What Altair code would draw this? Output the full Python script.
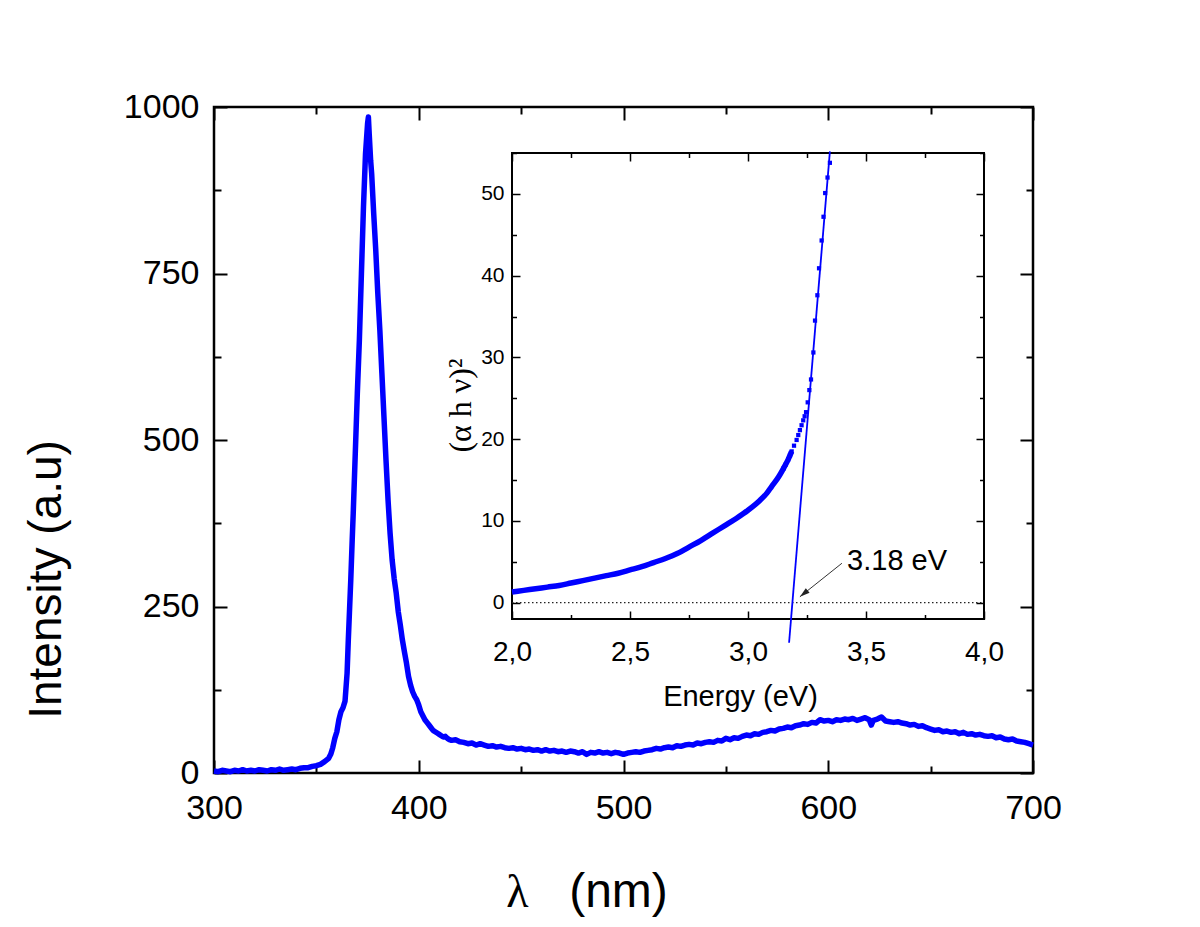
import altair as alt
import pandas as pd

# ---------------- data ----------------
WAVELENGTH = [300, 302, 304, 306, 308, 310, 312, 314, 316, 318, 320, 322, 324, 326, 328, 330, 332, 334, 336, 338,
              340, 342, 344, 346, 348, 350, 352, 354, 356, 357, 358, 359, 360, 361, 362, 363, 364, 365, 365.6, 366.2,
              366.8, 367.5, 368, 369, 370, 371, 372, 373, 374, 375, 375.4, 375.8, 376.5, 377, 378, 379, 380, 381, 382, 383,
              384, 385, 386, 387, 388, 389, 390, 391, 392, 393, 394, 395, 396, 397, 398, 399, 400, 401, 402, 403,
              404, 405, 406, 407, 408, 409, 410, 411, 412, 413, 414, 415, 416, 418, 420, 422, 424, 426, 428, 430,
              432, 434, 436, 438, 440, 442, 444, 446, 448, 450, 452, 454, 456, 458, 460, 462, 464, 466, 468, 470,
              472, 474, 476, 478, 480, 482, 484, 486, 488, 490, 492, 494, 496, 498, 500, 502, 504, 506, 508, 510,
              512, 514, 516, 518, 520, 522, 524, 526, 528, 530, 532, 534, 536, 538, 540, 542, 544, 546, 548, 550,
              552, 554, 556, 558, 560, 562, 564, 566, 568, 570, 572, 574, 576, 578, 580, 582, 584, 586, 588, 590,
              592, 594, 596, 598, 600, 602, 604, 606, 608, 610, 612, 614, 616, 618, 620, 621, 622, 624, 626, 628,
              630, 632, 634, 636, 638, 640, 642, 644, 646, 648, 650, 652, 654, 656, 658, 660, 662, 664, 666, 668,
              670, 672, 674, 676, 678, 680, 682, 684, 686, 688, 690, 692, 694, 696, 698, 700]
INTENSITY = [3, 2, 4, 3, 2, 4, 3, 5, 3, 4, 3, 5, 4, 3, 5, 4, 6, 4, 5, 6,
             5, 7, 8, 8, 10, 11, 13, 17, 22, 28, 38, 52, 62, 80, 92, 98, 108, 150, 200, 245,
             290, 350, 390, 480, 570, 650, 750, 850, 930, 975, 985, 960, 920, 900, 840, 785, 720, 665, 600, 535,
             470, 410, 360, 320, 292, 270, 242, 222, 200, 182, 165, 145, 132, 122, 115, 110, 102, 92, 86, 80,
             76, 72, 68, 64, 62, 60, 58, 56, 54, 55, 52, 50, 49, 50, 47, 46, 44, 45, 42, 44,
             42, 40, 41, 39, 40, 38, 37, 38, 36, 37, 35, 36, 34, 35, 33, 35, 33, 34, 32, 33,
             31, 33, 32, 30, 32, 28, 31, 30, 32, 30, 31, 29, 31, 30, 28, 30, 31, 32, 31, 33,
             34, 35, 37, 36, 38, 39, 38, 41, 40, 42, 43, 42, 45, 44, 46, 47, 46, 49, 48, 52,
             50, 53, 52, 55, 57, 56, 59, 58, 61, 62, 64, 63, 66, 67, 69, 68, 71, 72, 74, 73,
             76, 75, 80, 78, 79, 77, 80, 79, 81, 80, 82, 79, 81, 83, 80, 72, 79, 81, 84, 78,
             77, 76, 77, 75, 74, 72, 73, 70, 71, 68, 66, 64, 65, 62, 63, 61, 62, 59, 61, 58,
             59, 57, 58, 56, 55, 56, 53, 54, 51, 50, 51, 48, 47, 46, 44, 42]

# inset: (alpha h nu)^2 versus photon energy
ENERGY_CURVE = [2.00, 2.05, 2.10, 2.15, 2.20, 2.25, 2.30, 2.35, 2.40, 2.45, 2.50, 2.55, 2.60, 2.65, 2.70,
                2.75, 2.80, 2.85, 2.90, 2.95, 3.00, 3.05, 3.08, 3.10, 3.13, 3.15, 3.17, 3.185]
AHV2_CURVE = [1.3, 1.5, 1.7, 1.9, 2.1, 2.4, 2.7, 3.0, 3.3, 3.6, 4.0, 4.4, 4.9, 5.4, 6.0,
              6.8, 7.6, 8.5, 9.4, 10.3, 11.3, 12.5, 13.4, 14.2, 15.4, 16.4, 17.5, 18.5]
ENERGY_POINTS = [3.15, 3.16, 3.17, 3.178, 3.185, 3.195, 3.206, 3.213, 3.220, 3.227, 3.234, 3.240, 3.246, 3.253,
                 3.260, 3.267, 3.277, 3.284, 3.294, 3.301, 3.312, 3.320, 3.327, 3.337, 3.347]
AHV2_POINTS = [16.4, 16.9, 17.5, 18.0, 18.5, 19.2, 19.9, 20.5, 21.1, 21.7, 22.3, 22.8, 23.3, 24.5,
               26.0, 27.3, 30.6, 34.5, 37.6, 40.9, 44.3, 47.2, 50.1, 52.0, 53.8]
FIT_ENERGY = [3.174, 3.347]
FIT_AHV2 = [-4.9, 55.2]
BASELINE_ENERGY = [2.0, 4.0]
BASELINE_VALUE = [0.0, 0.0]
ANNOT_ENERGY = [3.42]
ANNOT_VALUE = [4.0]
ANNOT_TEXT = ["3.18 eV"]
ARROW_ENERGY = [3.398, 3.220]
ARROW_VALUE = [4.82, 0.72]

# axes
MAIN_X_DOMAIN = [300, 700]
MAIN_Y_DOMAIN = [0, 1000]
MAIN_X_MAJOR = [300, 400, 500, 600, 700]
MAIN_X_MINOR = [350, 450, 550, 650]
MAIN_Y_MAJOR = [0, 250, 500, 750, 1000]
MAIN_Y_MINOR = [125, 375, 625, 875]
INSET_X_DOMAIN = [2.0, 4.0]
INSET_Y_DOMAIN = [-2, 55]
INSET_X_MAJOR = [2.0, 2.5, 3.0, 3.5, 4.0]
INSET_X_MINOR = [2.25, 2.75, 3.25, 3.75]
INSET_Y_MAJOR = [0, 10, 20, 30, 40, 50]
INSET_Y_MINOR = [5, 15, 25, 35, 45, 55]

# ---------------- layout ----------------
W, H = 819, 666
IL, IR, IT, IB = 298, 770, 46, 512          # inset plot box inside main plot area
MAJ, MIN = 13, 7                            # main tick lengths
IMAJ, IMIN = 8, 4.5                         # inset tick lengths
BLUE = "#0000ff"
SANS = "Liberation Sans, Arial, Helvetica, sans-serif"
SERIF = "Liberation Serif, Times New Roman, DejaVu Serif, serif"

main_df = pd.DataFrame({"wl": WAVELENGTH, "inten": INTENSITY})
curve_df = pd.DataFrame({"E": ENERGY_CURVE, "v": AHV2_CURVE})
pts_df = pd.DataFrame({"E": ENERGY_POINTS, "v": AHV2_POINTS})
fit_df = pd.DataFrame({"E": FIT_ENERGY, "v": FIT_AHV2})
base_df = pd.DataFrame({"E": BASELINE_ENERGY, "v": BASELINE_VALUE})
box_df = pd.DataFrame({"E": [INSET_X_DOMAIN[0]], "E2": [INSET_X_DOMAIN[1]],
                       "v": [INSET_Y_DOMAIN[0]], "v2": [INSET_Y_DOMAIN[1]]})
annot_df = pd.DataFrame({"E": ANNOT_ENERGY, "v": ANNOT_VALUE, "t": ANNOT_TEXT})
arrow_df = pd.DataFrame({"E": ARROW_ENERGY, "v": ARROW_VALUE, "o": [0, 1]})
head_df = arrow_df.iloc[[1]]


def mscale_x():
    return alt.Scale(domain=MAIN_X_DOMAIN, nice=False, zero=False)


def mscale_y():
    return alt.Scale(domain=MAIN_Y_DOMAIN, nice=False, zero=False)


def iscale_x():
    return alt.Scale(domain=INSET_X_DOMAIN, range=[IL, IR], nice=False, zero=False)


def iscale_y():
    return alt.Scale(domain=INSET_Y_DOMAIN, range=[IB, IT], nice=False, zero=False)


def tick_axis(orient, offset, size, values, width, **kw):
    return alt.Axis(orient=orient, offset=offset, tickSize=size, values=values, labels=False,
                    domain=False, grid=False, ticks=True, tickColor="black", tickWidth=width,
                    title=kw.pop("title", ""), **kw)


# ---------------- main chart ----------------
main_line = alt.Chart(main_df).mark_line(color=BLUE, strokeWidth=5.5, strokeJoin="round").encode(
    x=alt.X("wl:Q", scale=mscale_x(), axis=alt.Axis(
        orient="bottom", values=MAIN_X_MAJOR, ticks=False, tickSize=0, domain=False, grid=False,
        labelFont=SANS, labelFontSize=34, labelColor="black", labelPadding=45,
        labelBaseline="alphabetic", labelFlush=False, labelOverlap=False, format="d", title="")),
    y=alt.Y("inten:Q", scale=mscale_y(), axis=alt.Axis(
        orient="left", values=MAIN_Y_MAJOR, ticks=False, tickSize=0, domain=False, grid=False,
        labelFont=SANS, labelFontSize=34, labelColor="black", labelPadding=15,
        labelFlush=False, labelOverlap=False, format="d",
        title="Intensity (a.u)", titleFont=SANS, titleFontSize=46, titleFontWeight="normal",
        titleColor="black", titleAngle=270, titleX=-154, titleY=472, titleAlign="center",
        titleBaseline="alphabetic")),
    order="wl:Q",
)

main_ticks_bl_major = alt.Chart(main_df).mark_point(opacity=0).encode(
    x=alt.X("wl:Q", scale=mscale_x(), axis=tick_axis(
        "bottom", -MAJ, MAJ, MAIN_X_MAJOR, 2,
        title="λ", titleFont=SERIF, titleFontSize=46, titleFontWeight="normal", titleColor="black",
        titleX=303, titleY=146, titleAlign="center", titleBaseline="alphabetic")),
    y=alt.Y("inten:Q", scale=mscale_y(), axis=tick_axis("left", -MAJ, MAJ, MAIN_Y_MAJOR, 2)),
)
main_ticks_bl_minor = alt.Chart(main_df).mark_point(opacity=0).encode(
    x=alt.X("wl:Q", scale=mscale_x(), axis=tick_axis(
        "bottom", -MIN, MIN, MAIN_X_MINOR, 2,
        title="(nm)", titleFont=SANS, titleFontSize=48, titleFontWeight="normal", titleColor="black",
        titleX=404, titleY=140, titleAlign="center", titleBaseline="alphabetic")),
    y=alt.Y("inten:Q", scale=mscale_y(), axis=tick_axis("left", -MIN, MIN, MAIN_Y_MINOR, 2)),
)
main_ticks_tr_major = alt.Chart(main_df).mark_point(opacity=0).encode(
    x=alt.X("wl:Q", scale=mscale_x(), axis=tick_axis("top", -MAJ, MAJ, MAIN_X_MAJOR, 2)),
    y=alt.Y("inten:Q", scale=mscale_y(), axis=tick_axis("right", -MAJ, MAJ, MAIN_Y_MAJOR, 2)),
)
main_ticks_tr_minor = alt.Chart(main_df).mark_point(opacity=0).encode(
    x=alt.X("wl:Q", scale=mscale_x(), axis=tick_axis("top", -MIN, MIN, MAIN_X_MINOR, 2)),
    y=alt.Y("inten:Q", scale=mscale_y(), axis=tick_axis("right", -MIN, MIN, MAIN_Y_MINOR, 2)),
)

# ---------------- inset ----------------
comma = "replace(format(datum.value, '.1f'), '.', ',')"

inset_box = alt.Chart(box_df).mark_rect(fillOpacity=0, stroke="black", strokeWidth=2).encode(
    x=alt.X("E:Q", scale=iscale_x(), axis=None), x2="E2:Q",
    y=alt.Y("v:Q", scale=iscale_y(), axis=None), y2="v2:Q",
)
inset_base = alt.Chart(base_df).mark_line(color="#222222", strokeWidth=1.3, strokeDash=[1.5, 2.5]).encode(
    x=alt.X("E:Q", scale=iscale_x(), axis=None),
    y=alt.Y("v:Q", scale=iscale_y(), axis=None),
)
inset_curve = alt.Chart(curve_df).mark_line(color=BLUE, strokeWidth=5.5, interpolate="monotone").encode(
    x=alt.X("E:Q", scale=iscale_x(), axis=alt.Axis(
        orient="bottom", offset=IB - H, values=INSET_X_MAJOR, ticks=False, tickSize=0, domain=False,
        grid=False, labelExpr=comma, labelFont=SANS, labelFontSize=28, labelColor="black",
        labelPadding=41, labelBaseline="alphabetic", labelFlush=False, labelOverlap=False,
        title="Energy (eV)", titleFont=SANS, titleFontSize=29, titleFontWeight="normal",
        titleColor="black", titleX=526, titleY=86, titleAlign="center", titleBaseline="alphabetic")),
    y=alt.Y("v:Q", scale=iscale_y(), axis=alt.Axis(
        orient="left", offset=-IL, values=INSET_Y_MAJOR, ticks=False, tickSize=0, domain=False,
        grid=False, labelFont=SANS, labelFontSize=21, labelColor="black", labelPadding=8,
        labelFlush=False, labelOverlap=False, format="d",
        title="(α h ν)²", titleFont=SERIF, titleFontSize=32, titleFontWeight="normal",
        titleColor="black", titleAngle=270, titleX=-42, titleY=298, titleAlign="center",
        titleBaseline="alphabetic")),
)
inset_pts = alt.Chart(pts_df).mark_square(color=BLUE, size=18, opacity=1).encode(
    x=alt.X("E:Q", scale=iscale_x(), axis=None),
    y=alt.Y("v:Q", scale=iscale_y(), axis=None),
)
inset_fit = alt.Chart(fit_df).mark_line(color=BLUE, strokeWidth=1.8).encode(
    x=alt.X("E:Q", scale=iscale_x(), axis=None),
    y=alt.Y("v:Q", scale=iscale_y(), axis=None),
)
arrow_line = alt.Chart(arrow_df).mark_line(color="#333333", strokeWidth=1).encode(
    x=alt.X("E:Q", scale=iscale_x(), axis=None),
    y=alt.Y("v:Q", scale=iscale_y(), axis=None),
    order="o:Q",
)
arrow_head = alt.Chart(head_df).mark_point(
    shape="M0,0L-0.3,-1L0.3,-1Z", filled=True, color="#222222", size=400, angle=51, opacity=1
).encode(
    x=alt.X("E:Q", scale=iscale_x(), axis=None),
    y=alt.Y("v:Q", scale=iscale_y(), axis=None),
)
annot = alt.Chart(annot_df).mark_text(
    align="left", baseline="alphabetic", font=SANS, fontSize=29, color="black"
).encode(
    x=alt.X("E:Q", scale=iscale_x(), axis=None),
    y=alt.Y("v:Q", scale=iscale_y(), axis=None),
    text="t:N",
)

inset_ticks_bl_major = alt.Chart(curve_df).mark_point(opacity=0).encode(
    x=alt.X("E:Q", scale=iscale_x(), axis=tick_axis("bottom", IB - H - IMAJ, IMAJ, INSET_X_MAJOR, 1.5)),
    y=alt.Y("v:Q", scale=iscale_y(), axis=tick_axis("left", -(IL + IMAJ), IMAJ, INSET_Y_MAJOR, 1.5)),
)
inset_ticks_bl_minor = alt.Chart(curve_df).mark_point(opacity=0).encode(
    x=alt.X("E:Q", scale=iscale_x(), axis=tick_axis("bottom", IB - H - IMIN, IMIN, INSET_X_MINOR, 1.5)),
    y=alt.Y("v:Q", scale=iscale_y(), axis=tick_axis("left", -(IL + IMIN), IMIN, INSET_Y_MINOR, 1.5)),
)
inset_ticks_tr_major = alt.Chart(curve_df).mark_point(opacity=0).encode(
    x=alt.X("E:Q", scale=iscale_x(), axis=tick_axis("top", -(IT + IMAJ), IMAJ, INSET_X_MAJOR, 1.5)),
    y=alt.Y("v:Q", scale=iscale_y(), axis=tick_axis("right", (IR - W) - IMAJ, IMAJ, INSET_Y_MAJOR, 1.5)),
)
inset_ticks_tr_minor = alt.Chart(curve_df).mark_point(opacity=0).encode(
    x=alt.X("E:Q", scale=iscale_x(), axis=tick_axis("top", -(IT + IMIN), IMIN, INSET_X_MINOR, 1.5)),
    y=alt.Y("v:Q", scale=iscale_y(), axis=tick_axis("right", (IR - W) - IMIN, IMIN, INSET_Y_MINOR, 1.5)),
)

chart = alt.layer(
    main_line,
    main_ticks_bl_major, main_ticks_bl_minor, main_ticks_tr_major, main_ticks_tr_minor,
    inset_box, inset_base, inset_curve, inset_pts, inset_fit, arrow_line, arrow_head, annot,
    inset_ticks_bl_major, inset_ticks_bl_minor, inset_ticks_tr_major, inset_ticks_tr_minor,
).resolve_scale(
    x="independent", y="independent"
).properties(
    width=W, height=H,
    padding={"left": 206, "top": 99, "right": 159, "bottom": 146},
    autosize=alt.AutoSizeParams(type="none"),
    background="white",
).configure_view(
    stroke="black", strokeWidth=2.5
)

chart.save("out.html", embed_options={"renderer": "svg", "actions": False})
